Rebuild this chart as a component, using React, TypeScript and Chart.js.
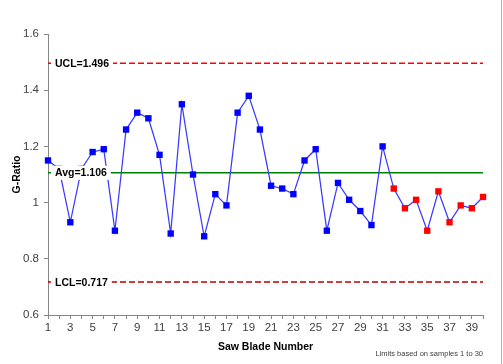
import React, { useEffect, useRef } from 'react';
import { Chart, registerables } from 'chart.js';

Chart.register(...registerables);

const sampleNumbers = [
  1, 2, 3, 4, 5, 6, 7, 8, 9, 10, 11, 12, 13, 14, 15, 16, 17, 18, 19, 20,
  21, 22, 23, 24, 25, 26, 27, 28, 29, 30, 31, 32, 33, 34, 35, 36, 37, 38, 39, 40,
];

const gRatio = [
  1.15, 1.12, 0.93, 1.12, 1.18, 1.19, 0.9, 1.26, 1.32, 1.3,
  1.17, 0.89, 1.35, 1.1, 0.88, 1.03, 0.99, 1.32, 1.38, 1.26,
  1.06, 1.05, 1.03, 1.15, 1.19, 0.9, 1.07, 1.01, 0.97, 0.92,
  1.2, 1.05, 0.98, 1.01, 0.9, 1.04, 0.93, 0.99, 0.98, 1.02,
];

// samples drawn in red (after the baseline period)
const redSamples = [32, 33, 34, 35, 36, 37, 38, 39, 40];

const limitNames = ['UCL', 'Avg', 'LCL'];
const limitValues = [1.496, 1.106, 0.717];
const limitLabels = ['UCL=1.496', 'Avg=1.106', 'LCL=0.717'];

const yTicks = [0.6, 0.8, 1.0, 1.2, 1.4, 1.6];
const noteText = 'Limits based on samples 1 to 30';

const BLUE = '#0000FF';
const RED = '#FF0000';

export default function App() {
  const canvasRef = useRef<HTMLCanvasElement | null>(null);

  useEffect(() => {
    const canvas = canvasRef.current;
    if (!canvas) return;

    const pointColors = sampleNumbers.map((s) => (redSamples.includes(s) ? RED : BLUE));
    const xMin = sampleNumbers[0];
    const xMax = sampleNumbers[sampleNumbers.length - 1];

    const limitStyles = [
      { color: '#FF0000', dash: [6, 3] },
      { color: '#008000', dash: [] as number[] },
      { color: '#C00000', dash: [6, 3] },
    ];

    const limitDatasets = limitValues.map((v, i) => ({
      label: limitNames[i],
      data: [
        { x: xMin, y: v },
        { x: xMax, y: v },
      ],
      borderColor: limitStyles[i].color,
      borderDash: limitStyles[i].dash,
      borderWidth: 1.5,
      pointRadius: 0,
      fill: false,
      order: 2,
    }));

    const labelPlugin = {
      id: 'limitLabels',
      afterDatasetsDraw(chart: any) {
        const { ctx, chartArea, scales } = chart;
        const y = scales.y;
        ctx.save();
        ctx.font = 'bold 10.5px "Liberation Sans", Arial, sans-serif';
        ctx.textBaseline = 'middle';
        ctx.textAlign = 'left';
        limitValues.forEach((v, i) => {
          const py = y.getPixelForValue(v);
          const text = limitLabels[i];
          const w = ctx.measureText(text).width;
          const x0 = chartArea.left + 7;
          ctx.fillStyle = '#FFFFFF';
          ctx.fillRect(x0 - 4, py - 7, w + 8, 14);
          ctx.fillStyle = '#000000';
          ctx.fillText(text, x0, py + 0.5);
        });
        ctx.restore();
      },
      afterDraw(chart: any) {
        const { ctx, chartArea, width, height } = chart;
        ctx.save();
        ctx.font = '7.5px "Liberation Sans", Arial, sans-serif';
        ctx.fillStyle = '#404040';
        ctx.textAlign = 'right';
        ctx.textBaseline = 'middle';
        ctx.fillText(noteText, chartArea.right, 354);
        ctx.strokeStyle = '#B0B0B0';
        ctx.lineWidth = 1;
        ctx.beginPath();
        ctx.moveTo(width - 1.5, 0);
        ctx.lineTo(width - 1.5, height);
        ctx.stroke();
        ctx.restore();
      },
    };

    const chart = new Chart(canvas, {
      type: 'line',
      data: {
        datasets: [
          {
            label: 'G-Ratio',
            data: sampleNumbers.map((s, i) => ({ x: s, y: gRatio[i] })),
            borderColor: '#3A3AFF',
            borderWidth: 1.25,
            pointStyle: 'rect',
            pointRadius: 4.5,
            pointBorderWidth: 0,
            pointBackgroundColor: pointColors,
            pointBorderColor: pointColors,
            fill: false,
            clip: false,
            order: 0,
          } as any,
          ...limitDatasets,
        ],
      },
      options: {
        responsive: false,
        animation: false,
        events: [],
        layout: { padding: { top: 34, right: 20, left: 0, bottom: 0 } },
        plugins: {
          legend: { display: false },
          tooltip: { enabled: false },
        },
        scales: {
          x: {
            type: 'linear',
            min: xMin,
            max: xMax,
            afterFit: (s: any) => {
              s.height = 49;
            },
            afterBuildTicks: (s: any) => {
              s.ticks = sampleNumbers.map((n) => ({ value: n }));
            },
            ticks: {
              autoSkip: false,
              maxRotation: 0,
              padding: 2,
              color: '#404040',
              font: { family: '"Liberation Sans", Arial, sans-serif', size: 11.5 },
              callback: (v: any) => (Number(v) % 2 === 1 ? String(v) : ''),
            },
            grid: {
              display: true,
              drawOnChartArea: false,
              drawTicks: true,
              tickLength: 4,
              tickColor: '#868686',
            },
            border: { display: true, color: '#868686', width: 1 },
            title: {
              display: true,
              text: 'Saw Blade Number',
              color: '#000000',
              font: { family: '"Liberation Sans", Arial, sans-serif', size: 10.5, weight: 'bold' },
              padding: { top: 0, bottom: 11 },
            },
          },
          y: {
            type: 'linear',
            min: yTicks[0],
            max: yTicks[yTicks.length - 1],
            afterFit: (s: any) => {
              s.width = 48;
            },
            afterBuildTicks: (s: any) => {
              s.ticks = yTicks.map((v) => ({ value: v }));
            },
            ticks: {
              padding: 5,
              color: '#404040',
              font: { family: '"Liberation Sans", Arial, sans-serif', size: 11.5 },
              callback: (v: any) => String(Math.round(Number(v) * 10) / 10),
            },
            grid: {
              display: true,
              drawOnChartArea: false,
              drawTicks: true,
              tickLength: 4,
              tickColor: '#868686',
            },
            border: { display: true, color: '#868686', width: 1 },
            title: {
              display: true,
              text: 'G-Ratio',
              color: '#000000',
              font: { family: '"Liberation Sans", Arial, sans-serif', size: 10.5, weight: 'bold' },
              padding: { top: 11, bottom: 0 },
            },
          },
        },
      },
      plugins: [labelPlugin],
    });

    return () => {
      chart.destroy();
    };
  }, []);

  return (
    <div style={{ position: 'absolute', left: 0, top: 0, width: 503, height: 364, background: '#FFFFFF' }}>
      <canvas ref={canvasRef} width={503} height={364} style={{ display: 'block' }} />
    </div>
  );
}
